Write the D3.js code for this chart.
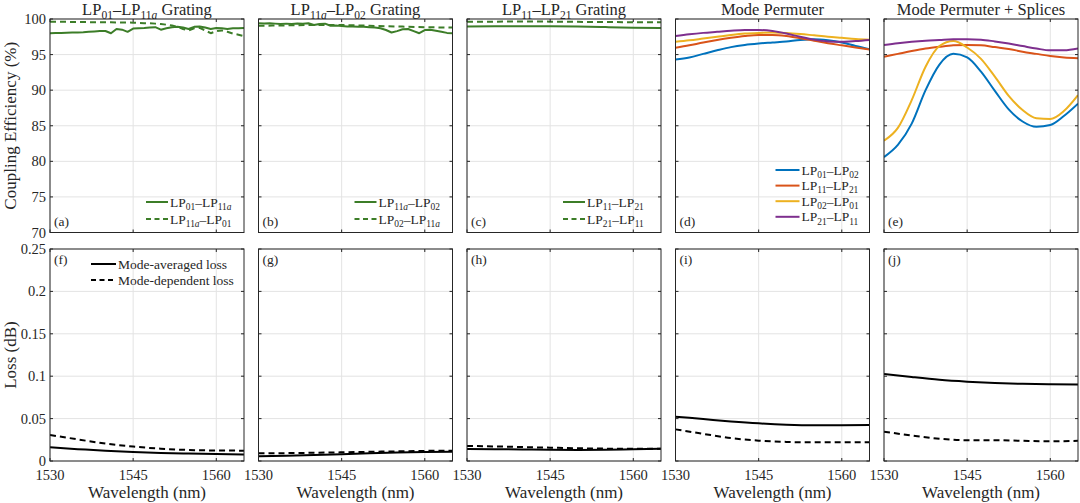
<!DOCTYPE html>
<html>
<head>
<meta charset="utf-8">
<script src="https://cdn.jsdelivr.net/npm/d3@7"></script>
<style>
body { margin: 0; background: #fff; }
svg text, svg tspan { font-family: 'Liberation Serif', 'DejaVu Serif', serif; fill: #262626; }
</style>
</head>
<body>
<svg id="chart" width="1080" height="503" font-family="Liberation Serif"></svg>
<script>
// ---- data ----
var wlGrating = [1530,1531,1532,1533,1534,1535,1536,1537,1538,1539,1540,1541,1542,1543,1544,1545,1546,1547,
                 1548,1549,1550,1551,1552,1553,1554,1555,1556,1557,1558,1559,1560,1561,1562,1563,1564,1565];
var wlCoarse = [1530,1535,1540,1545,1550,1555,1560,1565];
var wlFine = [1530,1532.5,1535,1537.5,1540,1542.5,1545,1547.5,1550,1552.5,1555,1557.5,1560,1562.5,1565];

// (a) LP01-LP11a grating
var gratA_fwd = [98.0,98.02,98.05,98.08,98.1,98.12,98.15,98.2,98.25,98.3,98.32,98.0,98.6,98.5,98.2,98.65,98.7,98.72,
                 98.8,98.85,98.5,98.7,98.85,98.9,98.8,98.6,98.9,98.95,98.8,98.6,98.75,98.7,98.6,98.7,98.7,98.72];
var gratA_bwd = [99.6,99.6,99.6,99.6,99.58,99.58,99.57,99.56,99.55,99.55,99.55,99.53,99.52,99.5,99.5,99.48,99.45,99.42,
                 99.4,99.35,99.3,99.2,99.1,98.9,98.6,98.4,98.7,98.75,98.4,98.0,98.3,98.4,98.2,97.95,97.8,97.6];
// (b) LP11a-LP02 grating
var gratB_fwd = [99.4,99.38,99.4,99.35,99.3,99.35,99.3,99.38,99.35,99.4,99.15,99.3,99.35,99.05,99.1,99.0,98.95,98.95,
                 98.9,98.92,98.85,98.8,98.7,98.45,98.1,98.3,98.55,98.6,98.3,98.0,98.45,98.5,98.35,98.2,98.05,98.0];
var gratB_bwd = [99.05,99.1,99.15,99.15,99.05,98.95,98.85,98.8];
// (c) LP11-LP21 grating
var gratC_fwd = [98.95,98.97,98.98,98.97,98.93,98.86,98.78,98.73];
var gratC_bwd = [99.62,99.63,99.64,99.63,99.6,99.57,99.55,99.53];

// (d) mode permuter
var perm_01_02 = [94.3,94.6,95.1,95.6,96.05,96.35,96.55,96.7,96.85,97.05,97.15,97.0,96.7,96.2,95.75];
var perm_11_21 = [95.95,96.3,96.7,97.05,97.35,97.6,97.75,97.75,97.6,97.3,96.95,96.6,96.3,96.0,95.7];
var perm_02_01 = [96.8,97.0,97.25,97.5,97.75,97.95,98.05,98.1,98.05,97.9,97.7,97.5,97.35,97.2,97.1];
var perm_21_11 = [97.6,97.85,98.05,98.2,98.35,98.45,98.45,98.3,97.95,97.5,97.1,96.85,96.8,96.9,97.05];

// (e) mode permuter + splices
var splc_01_02 = [80.6,82.3,85.3,90.0,93.6,95.1,94.6,92.6,89.9,87.3,85.6,84.85,85.1,86.4,88.1];
var splc_11_21 = [94.7,95.1,95.5,95.85,96.1,96.3,96.35,96.3,96.05,95.8,95.4,95.1,94.8,94.6,94.5];
var splc_02_01 = [82.9,84.7,88.6,93.3,96.2,96.9,96.0,94.4,91.9,89.2,87.2,86.05,85.95,87.1,89.3];
var splc_21_11 = [96.35,96.6,96.8,96.95,97.05,97.15,97.15,97.1,96.85,96.55,96.2,95.85,95.6,95.6,95.85];

// (f)-(j) losses in dB: mode-averaged (MAL) and mode-dependent (MDL)
var lossMAL = [
    [0.0161,0.0140,0.0120,0.0105,0.0095,0.0088,0.0082,0.0078],
    [0.0055,0.0062,0.0070,0.0080,0.0090,0.0100,0.0107,0.0110],
    [0.0142,0.0140,0.0136,0.0132,0.0130,0.0132,0.0138,0.0145],
    [0.0523,0.0495,0.0467,0.0444,0.0428,0.0421,0.0422,0.0424],
    [0.1026,0.0990,0.0958,0.0936,0.0920,0.0910,0.0905,0.0902]
];
var lossMDL = [
    [0.0307,0.0255,0.0205,0.0170,0.0145,0.0130,0.0124,0.0122],
    [0.0090,0.0093,0.0097,0.0102,0.0108,0.0114,0.0119,0.0122],
    [0.0178,0.0172,0.0164,0.0157,0.0150,0.0146,0.0145,0.0145],
    [0.0373,0.0320,0.0270,0.0240,0.0225,0.0220,0.0220,0.0221],
    [0.0346,0.0300,0.0262,0.0245,0.0245,0.0238,0.0232,0.0238]
];

var titles = ["LP_{01}–LP_{11*a*} Grating", "LP_{11*a*}–LP_{02} Grating", "LP_{11}–LP_{21} Grating",
              "Mode Permuter", "Mode Permuter + Splices"];
var topLetters = ["(a)","(b)","(c)","(d)","(e)"];
var bottomLetters = ["(f)","(g)","(h)","(i)","(j)"];
var xTicks = [1530, 1545, 1560];
var effTicks = [70, 75, 80, 85, 90, 95, 100];
var lossTicks = [0, 0.05, 0.1, 0.15, 0.2, 0.25];
var lossTickLabels = ["0", "0.05", "0.1", "0.15", "0.2", "0.25"];

var green = "#3c7d28";
var permColors = ["#0072bd", "#d95319", "#edb120", "#7e2f8e"];
var serif = "'Liberation Serif', 'DejaVu Serif', serif";

// ---- layout ----
var svg = d3.select("#chart");
var panelLeft = [50, 258.5, 467, 675.5, 884];
var panelW = 194;
var topRow = {y0: 19, y1: 232.5};
var botRow = {y0: 249, y1: 461};

var x = d3.scaleLinear().domain([1530, 1565]).range([0, panelW]);
var yEff = d3.scaleLinear().domain([70, 100]).range([topRow.y1 - topRow.y0, 0]);
var yLoss = d3.scaleLinear().domain([0, 0.25]).range([botRow.y1 - botRow.y0, 0]);

function label(parent) {
    return parent.append("text").attr("font-family", serif).attr("fill", "#262626");
}

/**
 * Writes a label with LaTeX-like subscripts: "LP_{11*a*}" -> LP with subscript 11a (a italic)
 */
function rich(sel, str, size) {
    var re = /_\{([^}]*)\}|[^_]+/g, m, shifted = false;
    var shift = size * 0.25;
    while ((m = re.exec(str)) !== null) {
        if (m[1] !== undefined) {
            m[1].split(/(\*[^*]+\*)/).filter(Boolean).forEach(function(s, i) {
                var italic = s[0] == "*";
                var t = sel.append("tspan").text(italic ? s.slice(1, -1) : s)
                    .attr("font-size", size * 0.7);
                if (italic) t.attr("font-style", "italic");
                if (i == 0) t.attr("dy", shift);
            });
            shifted = true;
        } else {
            var t = sel.append("tspan").text(m[0]).attr("font-size", size);
            if (shifted) { t.attr("dy", -shift); shifted = false; }
        }
    }
}

function drawPanel(id, left, row, y, yTicks, opts) {
    var h = row.y1 - row.y0;
    var g = svg.append("g").attr("transform", "translate(" + left + "," + row.y0 + ")");

    g.append("clipPath").attr("id", "clip" + id)
        .append("rect").attr("width", panelW).attr("height", h);

    // grid
    g.selectAll("line.gx").data(xTicks).enter().append("line")
        .attr("x1", function(d){ return x(d); }).attr("x2", function(d){ return x(d); })
        .attr("y1", 0).attr("y2", h)
        .attr("stroke", "#e3e3e3").attr("stroke-width", 1);
    g.selectAll("line.gy").data(yTicks).enter().append("line")
        .attr("y1", function(d){ return y(d); }).attr("y2", function(d){ return y(d); })
        .attr("x1", 0).attr("x2", panelW)
        .attr("stroke", "#e3e3e3").attr("stroke-width", 1);

    // series
    var plot = g.append("g").attr("clip-path", "url(#clip" + id + ")");
    opts.series.forEach(function(s) {
        var line = d3.line()
            .x(function(d, i){ return x(s.x[i]); })
            .y(function(d){ return y(d); })
            .curve(s.smooth ? d3.curveMonotoneX : d3.curveLinear);
        plot.append("path").datum(s.v)
            .attr("d", line)
            .attr("fill", "none")
            .attr("stroke", s.color)
            .attr("stroke-width", 2)
            .attr("stroke-dasharray", s.dash ? "6,4" : null)
            .attr("stroke-linejoin", "round");
    });

    // frame and inward ticks on all sides
    g.append("rect").attr("width", panelW).attr("height", h)
        .attr("fill", "none").attr("stroke", "#262626").attr("stroke-width", 1);
    var tl = 3;
    xTicks.forEach(function(t) {
        g.append("line").attr("x1", x(t)).attr("x2", x(t)).attr("y1", h).attr("y2", h - tl).attr("stroke", "#262626");
        g.append("line").attr("x1", x(t)).attr("x2", x(t)).attr("y1", 0).attr("y2", tl).attr("stroke", "#262626");
    });
    yTicks.forEach(function(t) {
        g.append("line").attr("y1", y(t)).attr("y2", y(t)).attr("x1", 0).attr("x2", tl).attr("stroke", "#262626");
        g.append("line").attr("y1", y(t)).attr("y2", y(t)).attr("x1", panelW).attr("x2", panelW - tl).attr("stroke", "#262626");
    });

    // tick labels
    if (opts.yLabels) {
        yTicks.forEach(function(t, i) {
            label(g).attr("x", -4).attr("y", y(t) + 5)
                .attr("text-anchor", "end").attr("font-size", 14.5)
                .text(opts.yLabels[i]);
        });
    }
    if (opts.xLabels) {
        xTicks.forEach(function(t) {
            label(g).attr("x", x(t)).attr("y", h + 19)
                .attr("text-anchor", "middle").attr("font-size", 14.5)
                .text(t);
        });
        label(g).attr("x", panelW / 2).attr("y", h + 37)
            .attr("text-anchor", "middle").attr("font-size", 17)
            .text("Wavelength (nm)");
    }

    // panel letter
    label(g).attr("x", 4).attr("y", opts.letterTop ? 15 : h - 7)
        .attr("font-size", 13.5).text(opts.letter);

    // legend
    if (opts.legend) {
        var L = opts.legend;
        L.items.forEach(function(it, i) {
            var ly = L.y + i * L.dy;
            g.append("line").attr("x1", L.x).attr("x2", L.x + L.len)
                .attr("y1", ly).attr("y2", ly)
                .attr("stroke", it.color).attr("stroke-width", 2)
                .attr("stroke-dasharray", it.dash ? "5,3.5" : null);
            rich(label(g).attr("x", L.x + L.len + 2).attr("y", ly + 4.5), it.label, 13.5);
        });
    }

    if (opts.title) {
        rich(label(g).attr("x", panelW / 2).attr("y", -4.3).attr("text-anchor", "middle"), opts.title, 16.5);
    }
}

// ---- top row: coupling efficiency ----
var topSeries = [
    [{x: wlGrating, v: gratA_fwd, color: green}, {x: wlGrating, v: gratA_bwd, color: green, dash: true}],
    [{x: wlGrating, v: gratB_fwd, color: green}, {x: wlCoarse, v: gratB_bwd, color: green, dash: true, smooth: true}],
    [{x: wlCoarse, v: gratC_fwd, color: green, smooth: true}, {x: wlCoarse, v: gratC_bwd, color: green, dash: true, smooth: true}],
    [perm_01_02, perm_11_21, perm_02_01, perm_21_11].map(function(v, i){ return {x: wlFine, v: v, color: permColors[i], smooth: true}; }),
    [splc_01_02, splc_11_21, splc_02_01, splc_21_11].map(function(v, i){ return {x: wlFine, v: v, color: permColors[i], smooth: true}; })
];
var gratingLegends = [
    ["LP_{01}–LP_{11*a*}", "LP_{11*a*}–LP_{01}"],
    ["LP_{11*a*}–LP_{02}", "LP_{02}–LP_{11*a*}"],
    ["LP_{11}–LP_{21}", "LP_{21}–LP_{11}"]
];
var permLegend = ["LP_{01}–LP_{02}", "LP_{11}–LP_{21}", "LP_{02}–LP_{01}", "LP_{21}–LP_{11}"];

panelLeft.forEach(function(left, k) {
    var legend = null;
    if (k < 3) {
        legend = {x: 96, len: 22, y: 183, dy: 17, items: [
            {label: gratingLegends[k][0], color: green},
            {label: gratingLegends[k][1], color: green, dash: true}]};
    } else if (k == 3) {
        legend = {x: 100, len: 24, y: 151, dy: 15.6, items: permLegend.map(function(l, i){ return {label: l, color: permColors[i]}; })};
    }
    drawPanel("t" + k, left, topRow, yEff, effTicks, {
        series: topSeries[k],
        yLabels: k == 0 ? effTicks.map(String) : null,
        letter: topLetters[k],
        title: titles[k],
        legend: legend
    });
});

// ---- bottom row: losses ----
panelLeft.forEach(function(left, k) {
    drawPanel("b" + k, left, botRow, yLoss, lossTicks, {
        series: [{x: wlCoarse, v: lossMAL[k], color: "#000", smooth: true},
                 {x: wlCoarse, v: lossMDL[k], color: "#000", dash: true, smooth: true}],
        yLabels: k == 0 ? lossTickLabels : null,
        xLabels: true,
        letter: bottomLetters[k],
        letterTop: true,
        legend: k == 0 ? {x: 41, len: 25, y: 15, dy: 16, items: [
            {label: "Mode-averaged loss", color: "#000"},
            {label: "Mode-dependent loss", color: "#000", dash: true}]} : null
    });
});

// axis titles
label(svg).attr("transform", "translate(16," + (topRow.y0 + topRow.y1) / 2 + ") rotate(-90)")
    .attr("text-anchor", "middle").attr("font-size", 17).text("Coupling Efficiency (%)");
label(svg).attr("transform", "translate(16," + (botRow.y0 + botRow.y1) / 2 + ") rotate(-90)")
    .attr("text-anchor", "middle").attr("font-size", 17).text("Loss (dB)");
</script>
</body>
</html>
